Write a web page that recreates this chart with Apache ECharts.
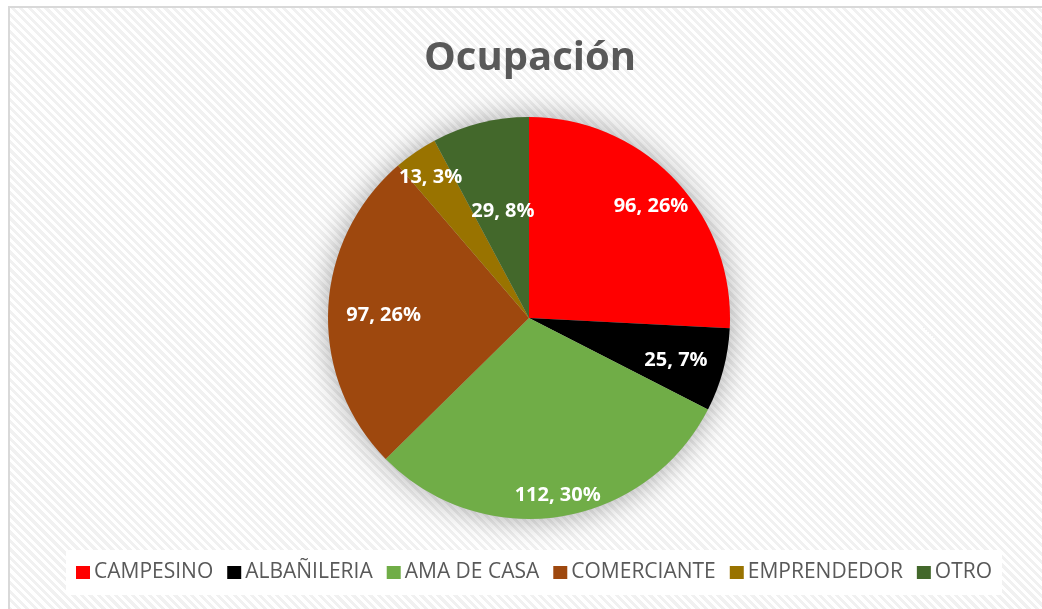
<!DOCTYPE html>
<html>
<head>
<meta charset="utf-8">
<script src="https://cdn.jsdelivr.net/npm/echarts@6/dist/echarts.min.js"></script>
<style>
    html, body {
        margin: 0;
        padding: 0;
        background: #fff;
    }
    /* marco con trama diagonal, como en el gráfico original */
    .frame {
        position: absolute;
        left: 8px;
        top: 6px;
        width: 1100px;
        height: 700px;
        border-left: 2px solid #d9d9d9;
        border-top: 2px solid #d9d9d9;
        background: repeating-linear-gradient(45deg, #ffffff 0px, #ffffff 3px, #f1f1f1 3px, #f1f1f1 6px);
    }
    #chart {
        position: absolute;
        left: 0;
        top: 0;
        width: 1042px;
        height: 609px;
    }
</style>
</head>
<body>
<div class="frame"></div>
<div id="chart"></div>
<script>
    const categories = ['CAMPESINO', 'ALBAÑILERIA', 'AMA DE CASA', 'COMERCIANTE', 'EMPRENDEDOR', 'OTRO'];
    const values = [96, 25, 112, 97, 13, 29];
    const percents = [26, 7, 30, 26, 3, 8];
    const colors = ['#FF0000', '#000000', '#70AD47', '#9E480E', '#997300', '#43682B'];
    // desplazamiento de cada etiqueta (Excel usa "mejor ajuste")
    const labelOffsets = [[47, -40], [47, 16], [13, 75], [-42, 2], [-40, -55], [-1, -6]];

    let chartDom = document.getElementById('chart');
    let myChart = echarts.init(chartDom);
    let option;

    option = {
        animation: false,
        title: {
            text: 'Ocupación',
            left: 424,
            top: 39,
            padding: 0,
            textStyle: {
                fontFamily: 'Open Sans',
                fontSize: 40,
                fontWeight: 'bold',
                color: '#595959'
            }
        },
        legend: {
            data: categories,
            left: 66,
            top: 550,
            padding: [12, 10],
            backgroundColor: '#ffffff',
            itemWidth: 14,
            itemHeight: 13,
            itemGap: 14,
            icon: 'rect',
            textStyle: {
                fontFamily: 'Open Sans',
                fontSize: 21,
                color: '#595959',
                padding: [0, 0, 0, -1]
            }
        },
        series: [
            {
                // sombra difusa detrás del pastel
                type: 'pie',
                silent: true,
                center: [529, 318],
                radius: 201,
                label: {show: false},
                itemStyle: {
                    color: '#bfbfbf',
                    shadowBlur: 30,
                    shadowColor: 'rgba(0, 0, 0, 0.35)'
                },
                data: [{value: 1, name: '_shadow'}]
            },
            {
                name: 'Ocupación',
                type: 'pie',
                center: [529, 318],
                radius: 201,
                startAngle: 90,
                clockwise: true,
                avoidLabelOverlap: false,
                itemStyle: {
                    borderWidth: 0
                },
                label: {
                    show: true,
                    position: 'inside',
                    color: '#ffffff',
                    fontFamily: 'Open Sans',
                    fontSize: 20,
                    fontWeight: 'bold',
                    formatter: p => values[p.dataIndex] + ', ' + percents[p.dataIndex] + '%'
                },
                labelLine: {show: false},
                data: categories.map((name, i) => ({
                    name: name,
                    value: values[i],
                    itemStyle: {color: colors[i]},
                    label: {offset: labelOffsets[i]}
                }))
            }
        ]
    };
    option && myChart.setOption(option);
</script>
</body>
</html>
